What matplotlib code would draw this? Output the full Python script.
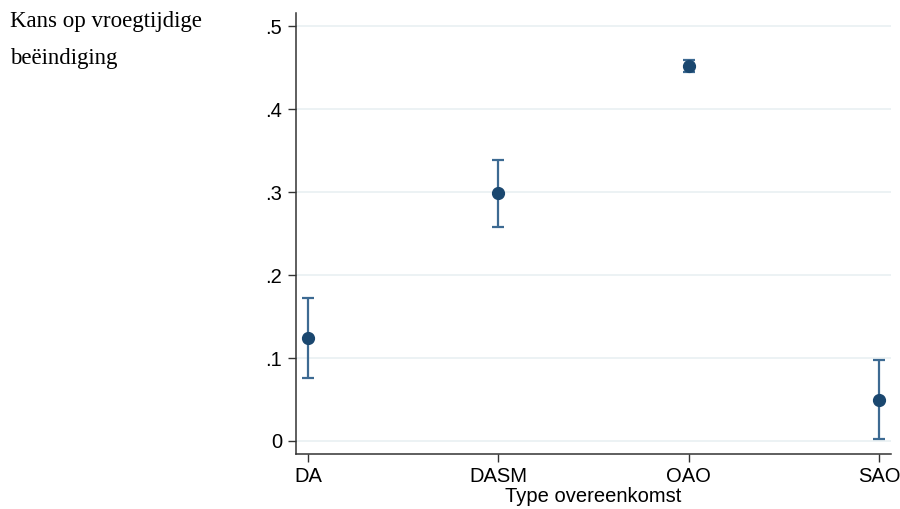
import numpy as np
import matplotlib.pyplot as plt

categories = ['DA', 'DASM', 'OAO', 'SAO']
estimates = [0.124, 0.299, 0.452, 0.049]
ci_low = [0.076, 0.258, 0.445, 0.002]
ci_high = [0.172, 0.339, 0.459, 0.098]
yticks = [0, 0.1, 0.2, 0.3, 0.4, 0.5]
ytick_labels = ['0', '.1', '.2', '.3', '.4', '.5']

navy = '#1a476f'
bar_col = '#3d6a92'

fig = plt.figure(figsize=(9, 5.09), dpi=100)
ax = fig.add_axes([0.329, 0.108, 0.661, 0.8664])

x = np.arange(len(categories))
est = np.array(estimates)
yerr = [est - np.array(ci_low), np.array(ci_high) - est]
ax.errorbar(x, est, yerr=yerr, fmt='none', ecolor=bar_col, elinewidth=1.6,
            capsize=4.5, capthick=1.6, zorder=2)
ax.plot(x, est, 'o', color=navy, markersize=8.5, zorder=3)

ax.set_xlim(-0.063, 3.063)
ax.set_ylim(-0.0157, 0.5157)
ax.set_yticks(yticks)
ax.set_yticklabels(ytick_labels)
ax.set_xticks(x)
ax.set_xticklabels(categories)
ax.yaxis.grid(True, color='#e9f0f2', linewidth=1.2)
ax.set_axisbelow(True)

for s in ['top', 'right']:
    ax.spines[s].set_visible(False)
for s in ['left', 'bottom']:
    ax.spines[s].set_color('#333333')
    ax.spines[s].set_linewidth(1.1)

ax.tick_params(axis='both', length=6, width=1, color='#333333',
               labelsize=14.5, labelfontfamily='Liberation Sans')
ax.tick_params(axis='x', pad=3)
ax.tick_params(axis='y', pad=4)
ax.set_xlabel('Type overeenkomst', fontsize=14.5, family='Liberation Sans',
              labelpad=1)

fig.text(0.011, 0.979, 'Kans op vroegtijdige\nbeëindiging', family='Liberation Serif',
         fontsize=16.5, va='top', ha='left', linespacing=2.0)

fig.savefig('out.png', dpi=100)
